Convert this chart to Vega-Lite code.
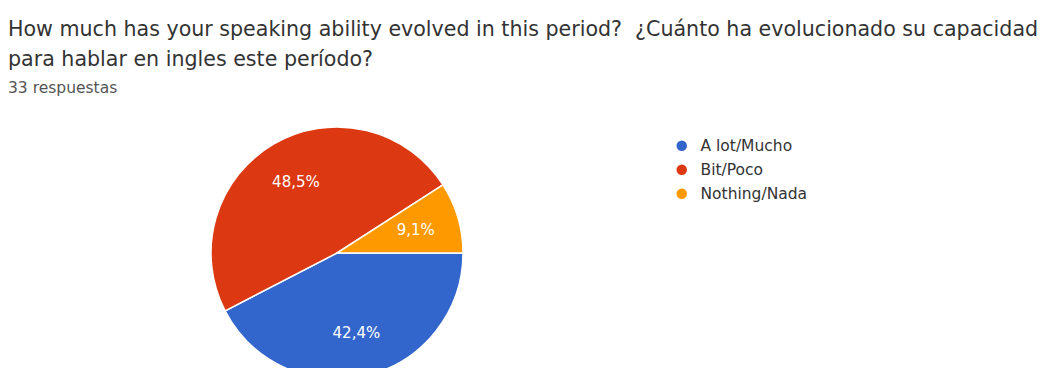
{
  "$schema": "https://vega.github.io/schema/vega-lite/v6.json",
  "width": 674,
  "height": 230,
  "autosize": "none",
  "padding": {"left": 0, "top": 138, "right": 376, "bottom": 0},
  "background": "white",
  "title": {
    "text": ["How much has your speaking ability evolved in this period?\u00a0 ¿Cuánto ha evolucionado su capacidad", "para hablar en ingles este período?"],
    "subtitle": "33 respuestas",
    "anchor": "start",
    "frame": "group",
    "dx": 8,
    "offset": 28,
    "font": "DejaVu Sans",
    "fontSize": 20.6,
    "fontWeight": "normal",
    "color": "#333333",
    "lineHeight": 30,
    "subtitleFont": "DejaVu Sans",
    "subtitleFontSize": 15.5,
    "subtitleColor": "#555555",
    "subtitlePadding": 10
  },
  "data": {
    "values": [
      {"answer": "A lot/Mucho", "value": 42.4, "label": "42,4%", "ord": 1},
      {"answer": "Bit/Poco", "value": 48.5, "label": "48,5%", "ord": 2},
      {"answer": "Nothing/Nada", "value": 9.1, "label": "9,1%", "ord": 3}
    ]
  },
  "layer": [
    {
      "mark": {"type": "arc", "outerRadius": 126, "stroke": "white", "strokeWidth": 1.5},
      "encoding": {
        "theta": {"field": "value", "type": "quantitative", "stack": true, "scale": {"range": [1.5708, 7.854]}},
        "order": {"field": "ord", "type": "quantitative"},
        "color": {
          "field": "answer",
          "type": "nominal",
          "sort": ["A lot/Mucho", "Bit/Poco", "Nothing/Nada"],
          "scale": {"domain": ["A lot/Mucho", "Bit/Poco", "Nothing/Nada"], "range": ["#3366cc", "#dc3912", "#ff9900"]},
          "legend": {
            "title": null,
            "orient": "none",
            "legendX": 674,
            "legendY": 0,
            "padding": 0,
            "symbolType": "circle",
            "symbolSize": 110,
            "symbolStrokeWidth": 0,
            "labelFont": "DejaVu Sans",
            "labelFontSize": 15.5,
            "labelColor": "#333333",
            "labelOffset": 11,
            "rowPadding": 7
          }
        }
      }
    },
    {
      "mark": {"type": "text", "radius": 82, "color": "white", "font": "DejaVu Sans", "fontSize": 15},
      "encoding": {
        "theta": {"field": "value", "type": "quantitative", "stack": true, "scale": {"range": [1.5708, 7.854]}},
        "order": {"field": "ord", "type": "quantitative"},
        "text": {"field": "label", "type": "nominal"}
      }
    }
  ]
}
